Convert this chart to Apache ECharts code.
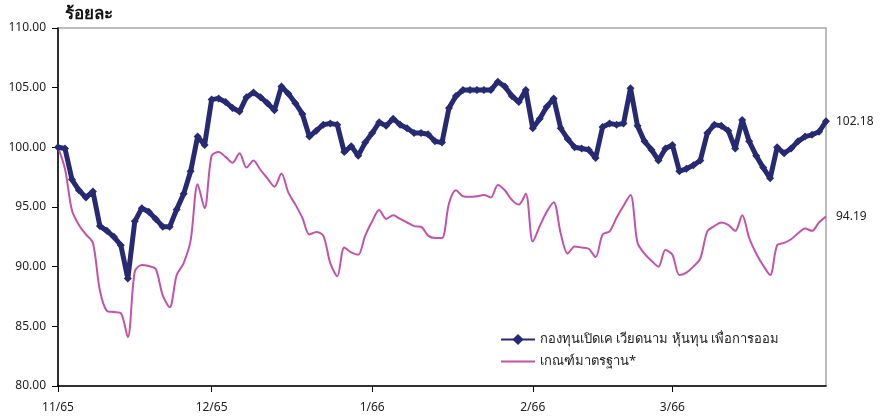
<!DOCTYPE html>
<html>
<head>
<meta charset="utf-8">
<script src="https://cdn.jsdelivr.net/npm/echarts@6/dist/echarts.min.js"></script>
<style>
html,body{margin:0;padding:0;background:#fff;}
#c{width:880px;height:420px;}
</style>
</head>
<body>
<div id="c"></div>
<script>
// Month tick labels and the index of each month's first point
const monthLabels = ["11/65", "12/65", "1/66", "2/66", "3/66"];
const monthStarts = [0, 22, 45, 68, 88];

// Fund NAV index (navy)
const fundValues = [
  100.0, 99.9, 97.3, 96.4, 95.8, 96.3, 93.4, 93.0, 92.5, 91.8,
  89.0, 93.8, 94.9, 94.6, 94.0, 93.35, 93.35, 94.8, 96.1, 98.0,
  100.9, 100.2, 104.0, 104.1, 103.8, 103.3, 103.0, 104.2, 104.6, 104.2,
  103.7, 103.1, 105.1, 104.5, 103.7, 102.8, 100.9, 101.4, 101.9, 102.0,
  101.9, 99.6, 100.1, 99.3, 100.4, 101.2, 102.1, 101.8, 102.4, 101.9,
  101.6, 101.2, 101.2, 101.1, 100.5, 100.4, 103.3, 104.3, 104.8, 104.8,
  104.8, 104.8, 104.8, 105.5, 105.1, 104.3, 103.8, 104.8, 101.6, 102.4,
  103.4, 104.1, 101.6, 100.7, 100.0, 99.9, 99.8, 99.1, 101.7, 102.0,
  101.9, 102.0, 104.95, 101.8, 100.5, 99.8, 98.9, 99.9, 100.2, 98.0,
  98.2, 98.5, 98.9, 101.2, 101.9, 101.8, 101.4, 99.9, 102.3, 100.5,
  99.3, 98.3, 97.4, 100.0, 99.5, 99.9, 100.5, 100.9, 101.05, 101.3,
  102.18
];

// Benchmark index (pink)
const benchValues = [
  100.0, 98.2, 94.7, 93.5, 92.7, 92.0, 88.0, 86.3, 86.2, 86.1,
  84.1, 89.6, 90.15, 90.05, 89.8, 87.6, 86.6, 89.3, 90.3, 92.2,
  96.9, 94.9, 99.3, 99.6, 99.2, 98.7, 99.5, 98.3, 98.9, 98.1,
  97.4, 96.7, 97.8, 96.2, 95.2, 94.1, 92.7, 92.9, 92.6, 90.3,
  89.2, 91.6, 91.2, 91.0, 92.6, 93.8, 94.75, 94.0, 94.3, 94.0,
  93.7, 93.4, 93.35, 92.6, 92.4, 92.4, 95.3, 96.4, 95.9, 95.85,
  95.9, 96.0, 95.8, 96.85, 96.4, 95.6, 95.2, 96.1, 92.1, 93.4,
  94.6, 95.4, 92.8, 91.1, 91.7, 91.6, 91.5, 90.8, 92.7, 92.95,
  94.1, 95.1, 96.0, 92.0, 91.1, 90.5, 90.0, 91.4, 91.0, 89.3,
  89.5, 90.0, 90.7, 92.95, 93.4, 93.7, 93.5, 93.0, 94.3, 92.4,
  91.1, 90.1, 89.3, 91.8, 92.0, 92.3, 92.8, 93.2, 93.0, 93.7,
  94.19
];

const seriesNames = ["กองทุนเปิดเค เวียดนาม หุ้นทุน เพื่อการออม", "เกณฑ์มาตรฐาน*"];
const yTitle = "ร้อยละ";

const categories = fundValues.map((_, i) => {
  const m = monthStarts.indexOf(i);
  return m >= 0 ? monthLabels[m] : String(i);
});
const isMonthStart = (idx) => monthStarts.indexOf(idx) >= 0;

const FONT = "'Noto Sans', 'DejaVu Sans', sans-serif";
const NAVY = '#262a72';
const PINK = '#c352ab';
const chart = echarts.init(document.getElementById('c'));
chart.setOption({
  animation: false,
  backgroundColor: '#fff',
  textStyle: { fontFamily: FONT },
  grid: { left: 58, right: 54, top: 28, bottom: 34, show: true, borderColor: '#a6a6a6', borderWidth: 1.5, backgroundColor: 'transparent' },
  title: { text: yTitle, left: 60, top: 1, textStyle: { fontSize: 17, fontWeight: 'bold', color: '#111', fontFamily: FONT } },
  legend: {
    orient: 'vertical', left: 495, top: 328, itemGap: 9, itemWidth: 34, itemHeight: 14,
    textStyle: { fontSize: 13, color: '#222', fontFamily: FONT },
    data: [
      seriesNames[0],
      { name: seriesNames[1], icon: 'path://M0,0 L34,0 L34,2.2 L0,2.2 Z' }
    ]
  },
  xAxis: {
    type: 'category', data: categories, boundaryGap: false,
    axisLine: { lineStyle: { color: '#000', width: 1.5 } },
    axisTick: { show: true, length: 6, interval: (i) => isMonthStart(i), lineStyle: { color: '#000' } },
    axisLabel: { interval: (i) => isMonthStart(i), margin: 16, fontSize: 12, color: '#222', fontFamily: FONT },
    splitLine: { show: false }
  },
  yAxis: {
    type: 'value', min: 80, max: 110, interval: 5,
    axisLine: { show: true, lineStyle: { color: '#000', width: 1.5 } },
    axisTick: { show: true, length: 6, lineStyle: { color: '#000' } },
    axisLabel: { margin: 12, fontSize: 12, color: '#222', fontFamily: FONT, formatter: (v) => v.toFixed(2) },
    splitLine: { show: false }
  },
  series: [
    {
      name: seriesNames[1], type: 'line', data: benchValues, smooth: 0.3,
      symbol: 'none', lineStyle: { color: PINK, width: 2 }, itemStyle: { color: PINK },
      endLabel: { show: true, distance: 10, fontSize: 12, color: '#222', fontFamily: FONT, formatter: (p) => p.value.toFixed(2) }
    },
    {
      name: seriesNames[0], type: 'line', data: fundValues,
      symbol: 'diamond', symbolSize: 8, showAllSymbol: true,
      lineStyle: { color: NAVY, width: 5 }, itemStyle: { color: NAVY },
      endLabel: { show: true, distance: 10, fontSize: 12, color: '#222', fontFamily: FONT, formatter: (p) => p.value.toFixed(2) }
    }
  ]
});
</script>
</body>
</html>
